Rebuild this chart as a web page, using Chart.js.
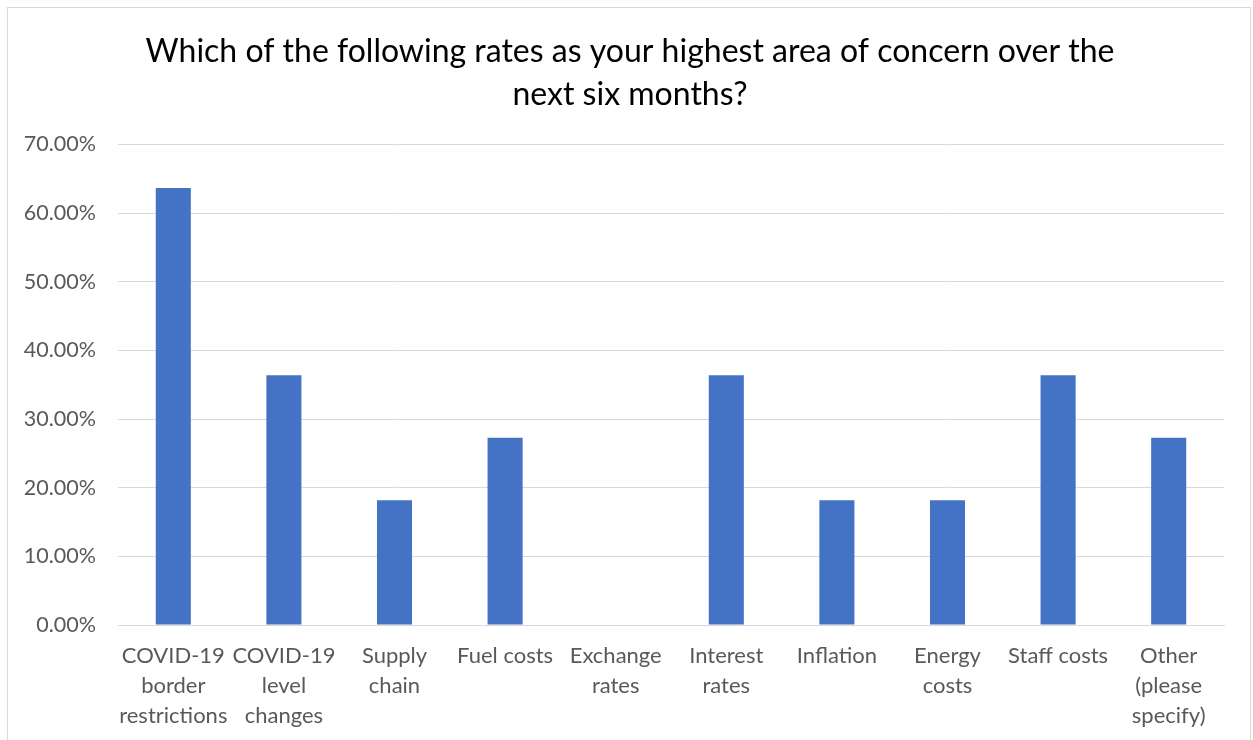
<!DOCTYPE html>
<html>
<head>
<meta charset="utf-8">
<script src="https://cdn.jsdelivr.net/npm/chart.js@4"></script>
<style>
  html, body { margin: 0; padding: 0; background: #ffffff; }
  #wrap { position: relative; width: 1253px; height: 740px; overflow: hidden; }
  #frame { position: absolute; left: 7px; top: 7px; width: 1244px; height: 760px;
           border: 1px solid #d9d9d9; box-sizing: border-box; pointer-events: none; }
  canvas { position: absolute; left: 0; top: 0; }
</style>
</head>
<body>
<div id="wrap">
  <canvas id="chart" width="1253" height="740"></canvas>
  <div id="frame"></div>
</div>
<script>
const titleLines = [
  'Which of the following rates as your highest area of concern over the',
  'next six months?'
];
const categories = [
  ['COVID-19', 'border', 'restrictions'],
  ['COVID-19', 'level', 'changes'],
  ['Supply', 'chain'],
  ['Fuel costs'],
  ['Exchange', 'rates'],
  ['Interest', 'rates'],
  ['Inflation'],
  ['Energy', 'costs'],
  ['Staff costs'],
  ['Other', '(please', 'specify)']
];
const shares = [63.64, 36.36, 18.18, 27.27, 0, 36.36, 18.18, 18.18, 36.36, 27.27];
const yMax = 70;
const yStep = 10;

const FONT = 'Lato, "Open Sans", sans-serif';

// Centre the title over the inner frame rather than the whole canvas.
const titleShift = {
  id: 'titleShift',
  afterLayout(chart) {
    const t = chart.titleBlock;
    if (t) { t.left += 36; }
  }
};

new Chart(document.getElementById('chart'), {
  type: 'bar',
  data: {
    labels: categories,
    datasets: [{
      data: shares,
      backgroundColor: '#4472c4',
      borderWidth: 0,
      barPercentage: 0.317,
      categoryPercentage: 1.0
    }]
  },
  plugins: [titleShift],
  options: {
    responsive: false,
    animation: false,
    layout: { padding: { left: 0, right: 29, top: 30, bottom: 0 } },
    plugins: {
      legend: { display: false },
      tooltip: { enabled: false },
      title: {
        display: true,
        text: titleLines,
        color: '#000000',
        font: { family: FONT, size: 32, weight: 'normal', lineHeight: 1.35 },
        padding: { top: 0, bottom: 28 }
      }
    },
    scales: {
      y: {
        min: 0,
        max: yMax,
        afterFit: (scale) => { scale.width = 118; },
        ticks: {
          stepSize: yStep,
          color: '#595959',
          padding: 22,
          font: { family: FONT, size: 21.5 },
          callback: (v) => v.toFixed(2) + '%'
        },
        grid: { color: '#d9d9d9', lineWidth: 1, drawTicks: false },
        border: { display: false }
      },
      x: {
        afterFit: (scale) => { scale.height = 115; },
        ticks: {
          color: '#595959',
          padding: 16,
          maxRotation: 0,
          autoSkip: false,
          font: { family: FONT, size: 22, lineHeight: 1.36 }
        },
        grid: { display: false, drawTicks: false },
        border: { display: true, color: '#d9d9d9', width: 1 }
      }
    }
  }
});
</script>
</body>
</html>
